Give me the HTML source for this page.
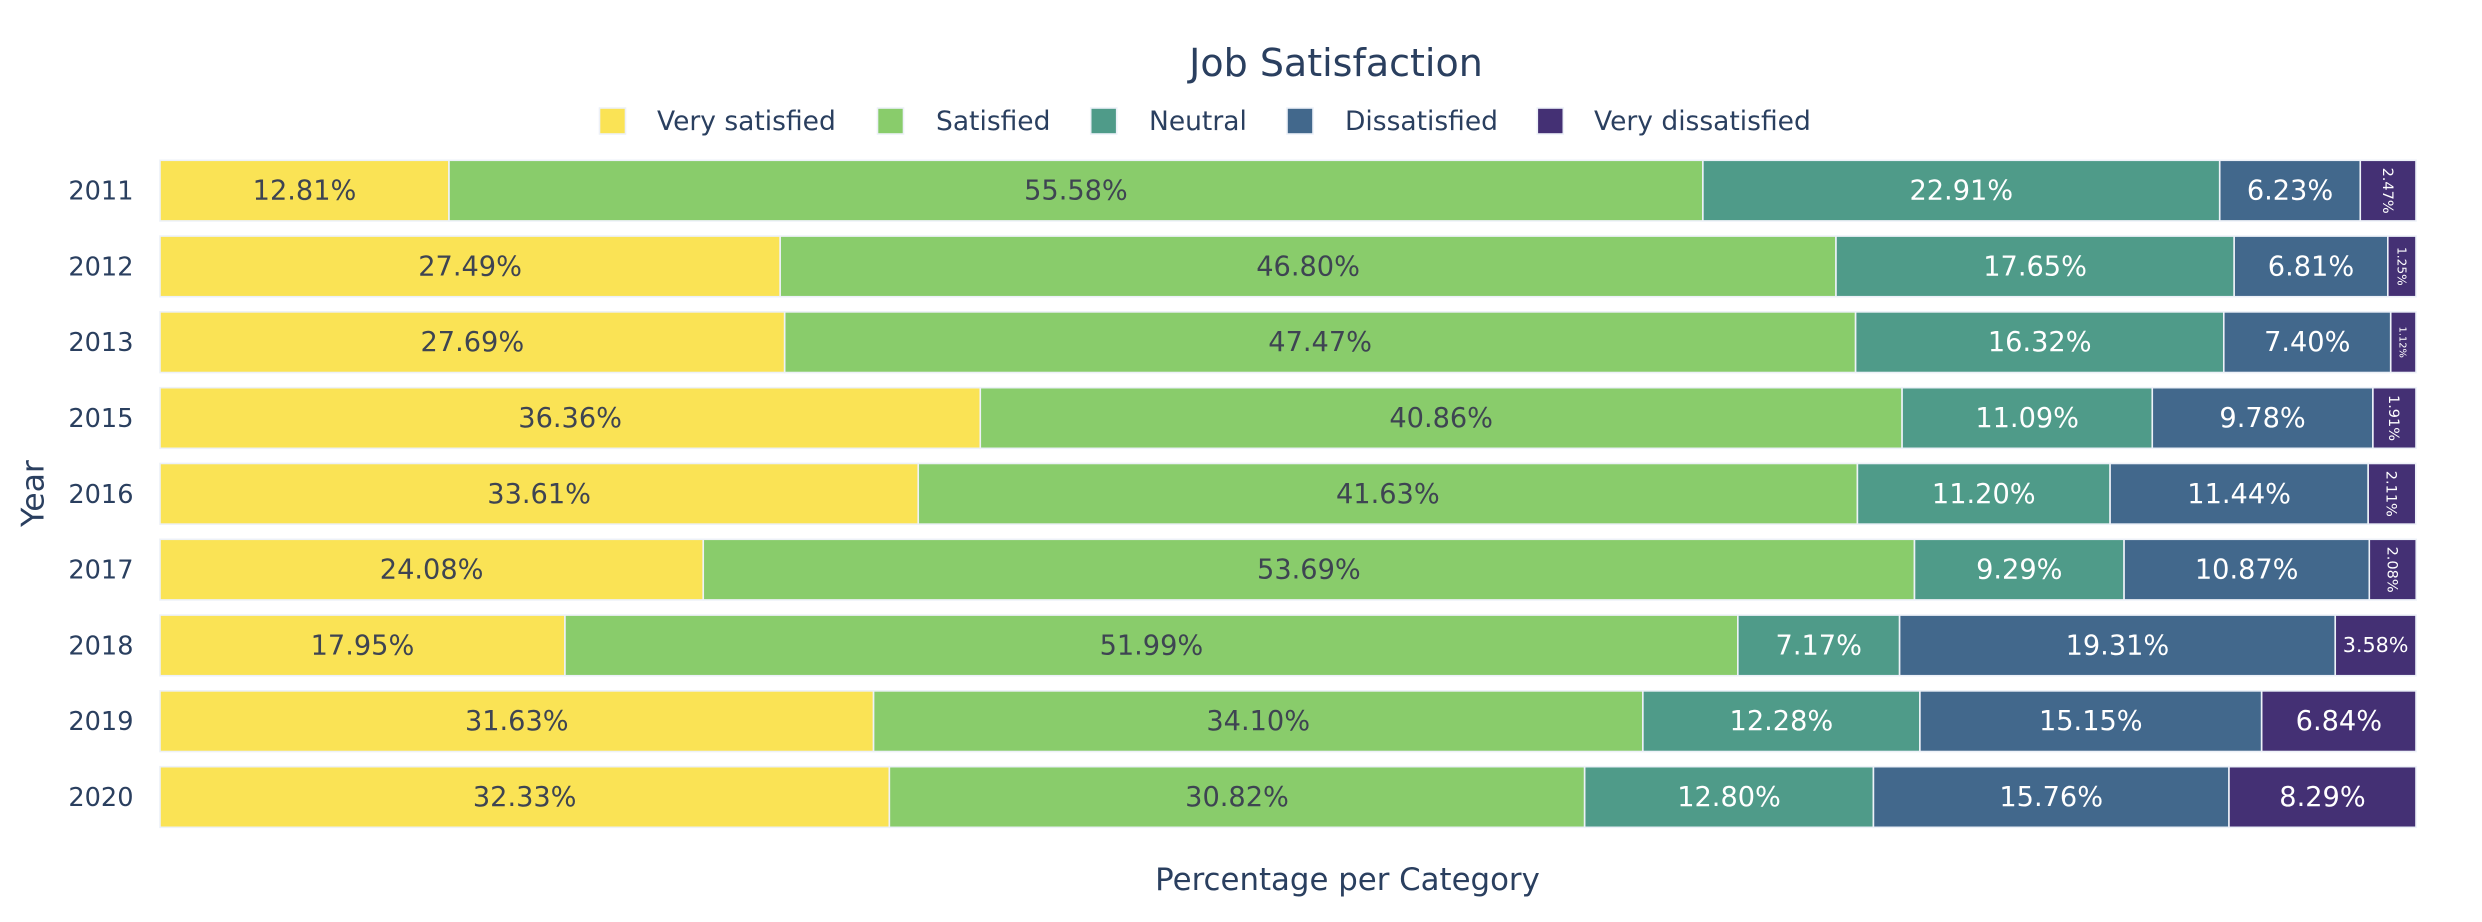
<!DOCTYPE html>
<html lang="en">
<head>
<meta charset="utf-8">
<title>Job Satisfaction</title>
<style>
html,body{margin:0;padding:0;background:#fff;}
svg{display:block;font-family:"DejaVu Sans","Liberation Sans",sans-serif;}
</style>
</head>
<body>
<svg id="chart" xmlns="http://www.w3.org/2000/svg" width="2482" height="922" viewBox="0 0 2482 922">
  <rect x="0" y="0" width="2482" height="922" fill="#ffffff"/>
  <text x="1336" y="76" font-size="38" fill="#2a3f5f" text-anchor="middle">Job Satisfaction</text>
  <text x="1347.5" y="890" font-size="30.8" fill="#2a3f5f" text-anchor="middle">Percentage per Category</text>
  <text transform="translate(43.5,493.5) rotate(-90)" font-size="31.5" fill="#2a3f5f" text-anchor="middle">Year</text>
  <g id="legend"></g>
  <g id="y-ticks"></g>
  <g id="bars"></g>
  <g id="labels"></g>
</svg>
<script>
const categories = ['2011','2012','2013','2015','2016','2017','2018','2019','2020'];
const seriesNames = ['Very satisfied','Satisfied','Neutral','Dissatisfied','Very dissatisfied'];
const verySatisfied = [12.81,27.49,27.69,36.36,33.61,24.08,17.95,31.63,32.33];
const satisfied = [55.58,46.80,47.47,40.86,41.63,53.69,51.99,34.10,30.82];
const neutral = [22.91,17.65,16.32,11.09,11.20,9.29,7.17,12.28,12.80];
const dissatisfied = [6.23,6.81,7.40,9.78,11.44,10.87,19.31,15.15,15.76];
const veryDissatisfied = [2.47,1.25,1.12,1.91,2.11,2.08,3.58,6.84,8.29];
const seriesValues = [verySatisfied,satisfied,neutral,dissatisfied,veryDissatisfied];

const palette = ['#fae355','#89cc6b','#4f9b89','#42688c','#443074'];
const labelInk = ['#3e4452','#3e4452','#ffffff','#ffffff','#ffffff'];
const NS = 'http://www.w3.org/2000/svg';
const plotLeft = 160, plotRight = 2416, plotTop = 152.7, plotBottom = 834.9;
const xScale = v => plotLeft + (v / 100) * (plotRight - plotLeft);
const bandStep = (plotBottom - plotTop) / categories.length;
const yBand = i => plotTop + bandStep * i;
const barHeight = bandStep * 0.8;
const slug = s => s.toLowerCase().replace(/\s+/g, '-');

function make(tag, attrs, parent, txt) {
  const el = document.createElementNS(NS, tag);
  for (const k in attrs) el.setAttribute(k, attrs[k]);
  if (txt !== undefined) el.textContent = txt;
  parent.appendChild(el);
  return el;
}

const barsG = document.getElementById('bars');
const labelsG = document.getElementById('labels');
const ticksG = document.getElementById('y-ticks');
const legendG = document.getElementById('legend');

categories.forEach((cat, i) => {
  const center = yBand(i) + bandStep / 2;
  const tick = make('text', {x: 133.5, y: center + 9, 'font-size': 25.6, fill: '#2a3f5f', 'text-anchor': 'end'}, ticksG, cat);
  
  

  let cumulative = 0;
  seriesValues.forEach((values, s) => {
    const v = values[i];
    const x0 = xScale(cumulative);
    const x1 = xScale(cumulative + v);
    cumulative += v;
    const w = x1 - x0;
    const bar = make('rect', {x: x0, y: yBand(i) + bandStep * 0.1, width: w, height: barHeight, fill: palette[s], stroke: '#edf1f8', 'stroke-width': 1.6}, barsG);
    
    

    const str = v.toFixed(2) + '%';
    const cx = (x0 + x1) / 2;
    const emWidth = 3.176;
    let size, attrs;
    if (w > 70) {
      size = Math.min(27.2, (w - 15) / emWidth);
      attrs = {x: cx, y: center + size * 0.33};
    } else {
      size = w >= 40 ? 14.5 : 12.2 + 0.8 * (w - 28.2);
      attrs = {transform: 'translate(' + (cx - size * 0.37) + ',' + center + ') rotate(90)'};
    }
    attrs['font-size'] = size;
    attrs.fill = labelInk[s];
    attrs['text-anchor'] = 'middle';
    const label = make('text', attrs, labelsG, str);
    
    
  });
});

const swatchLeft = [599.5, 877.5, 1090.7, 1287, 1537.3];
const legendTextLeft = [657, 936, 1149, 1345, 1594];
seriesNames.forEach((name, s) => {
  const entry = make('g', {}, legendG);
  
  
  const sw = make('rect', {x: swatchLeft[s], y: 108, width: 26, height: 26, fill: palette[s], stroke: '#edf1f8', 'stroke-width': 1.6}, entry);
  
  
  const t = make('text', {x: legendTextLeft[s], y: 130, 'font-size': 26.5, fill: '#2a3f5f'}, entry, name);
  
  
});
</script>
</body>
</html>
